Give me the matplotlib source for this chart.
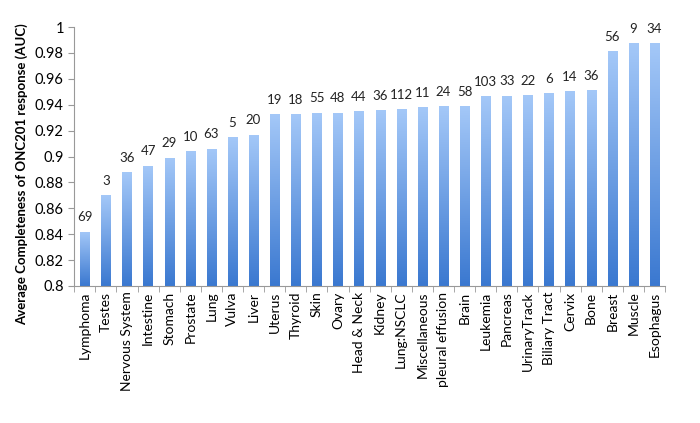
import matplotlib
matplotlib.use("Agg")
import matplotlib.pyplot as plt
import numpy as np
from matplotlib.colors import LinearSegmentedColormap

plt.rcParams['font.family'] = ['Lato', 'DejaVu Sans']

sites = ['Lymphoma', 'Testes', 'Nervous System', 'Intestine', 'Stomach', 'Prostate',
         'Lung', 'Vulva', 'Liver', 'Uterus', 'Thyroid', 'Skin', 'Ovary', 'Head & Neck',
         'Kidney', 'Lung:NSCLC', 'Miscellaneous', 'pleural effusion', 'Brain', 'Leukemia',
         'Pancreas', 'UrinaryTrack', 'Biliary Tract', 'Cervix', 'Bone', 'Breast',
         'Muscle', 'Esophagus']
auc = [0.842, 0.870, 0.888, 0.893, 0.899, 0.904, 0.906, 0.915, 0.917, 0.9325,
       0.9325, 0.934, 0.934, 0.935, 0.936, 0.9367, 0.938, 0.939, 0.939, 0.9467,
       0.947, 0.9475, 0.9488, 0.9505, 0.951, 0.9815, 0.9874, 0.9874]
n_samples = [69, 3, 36, 47, 29, 10, 63, 5, 20, 19, 18, 55, 48, 44, 36, 112, 11, 24,
             58, 103, 33, 22, 6, 14, 36, 56, 9, 34]

fig = plt.figure(figsize=(7, 4.23), dpi=100)
ax = fig.add_axes([0.106, 0.324, 0.844, 0.612])

x = np.arange(len(sites))
bars = ax.bar(x, auc, width=0.44, bottom=0, color='none', edgecolor='none')

ax.set_xlim(-0.5, len(sites) - 0.5)
ax.set_ylim(0.8, 1.0)

# vertical gradient, darker at the bottom
cmap = LinearSegmentedColormap.from_list('grad', ['#3a78d0', '#a4c8f8'])
grad = np.linspace(0, 1, 256).reshape(-1, 1)
for b in bars:
    im = ax.imshow(grad, cmap=cmap, aspect='auto', origin='lower',
                   extent=[b.get_x(), b.get_x() + b.get_width(), 0.8, b.get_height()],
                   zorder=2)
    im.set_clip_path(b)

for xi, v, n in zip(x, auc, n_samples):
    ax.annotate(str(n), (xi, v), xytext=(0, 6), textcoords='offset points',
                ha='center', va='bottom', fontsize=9.5, color='#222222')

ax.set_yticks(np.arange(0.8, 1.001, 0.02))
ax.set_yticklabels(['0.8', '0.82', '0.84', '0.86', '0.88', '0.9', '0.92', '0.94',
                    '0.96', '0.98', '1'])
ax.set_xticks(x)
ax.set_xticklabels(sites, rotation=90, fontsize=10)
ax.set_xticks(np.arange(-0.5, len(sites)), minor=True)
ax.tick_params(axis='x', which='major', length=0, pad=4)
ax.tick_params(axis='x', which='minor', length=4, color='#999999')
ax.tick_params(axis='y', length=4, color='#999999', labelsize=10.5)

for s in ['top', 'right']:
    ax.spines[s].set_visible(False)
for s in ['left', 'bottom']:
    ax.spines[s].set_color('#999999')

fig.text(22 / 700, 1 - 174 / 423, 'Average Completeness of ONC201 response (AUC)',
         rotation=90, ha='center', va='center', fontsize=9.5, fontweight='bold')

fig.savefig('out.png', dpi=100)
